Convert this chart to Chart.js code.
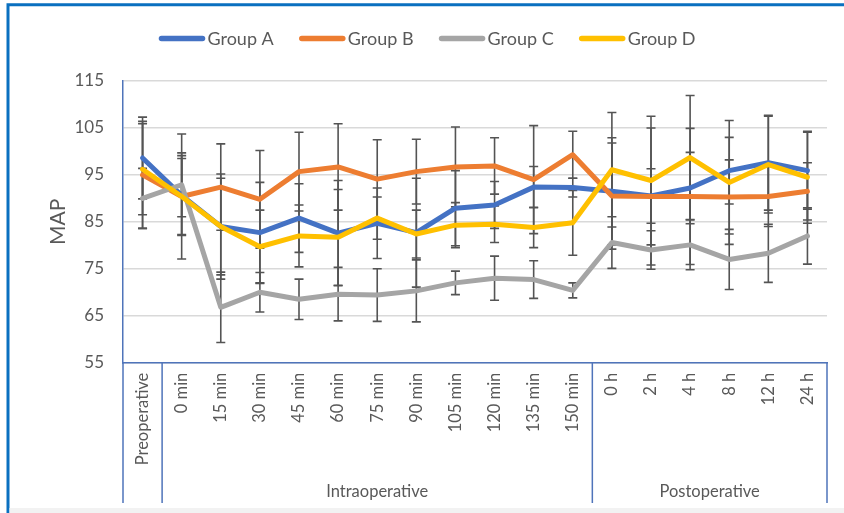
<!DOCTYPE html>
<html>
<head>
<meta charset="utf-8">
<script src="https://cdn.jsdelivr.net/npm/chart.js@4.4.1/dist/chart.umd.min.js"></script>
<style>
  html, body { margin: 0; padding: 0; background: #ffffff; }
  #wrap { width: 844px; height: 513px; position: relative; }
</style>
</head>
<body>
<div id="wrap"><canvas id="c" width="844" height="513"></canvas></div>
<script>
// Time points of the measurement
const categories = ['Preoperative', '0 min', '15 min', '30 min', '45 min', '60 min', '75 min',
  '90 min', '105 min', '120 min', '135 min', '150 min', '0 h', '2 h', '4 h', '8 h', '12 h', '24 h'];

// Phase grouping shown under the time labels (first / last category index)
const phaseNames = ['Intraoperative', 'Postoperative'];
const phaseStart = [1, 12];
const phaseEnd = [11, 17];

const seriesNames = ['Group A', 'Group B', 'Group C', 'Group D'];

// Mean arterial pressure (mean values)
const groupA = [98.6, 90.6, 84.0, 82.7, 85.8, 82.6, 84.7, 82.7, 87.9, 88.6, 92.4, 92.3, 91.5, 90.5, 92.2, 95.9, 97.6, 95.9];
const groupB = [95.0, 90.4, 92.4, 89.8, 95.7, 96.7, 94.1, 95.7, 96.7, 96.9, 94.0, 99.3, 90.5, 90.4, 90.4, 90.3, 90.4, 91.5];
const groupC = [90.0, 92.9, 66.8, 70.0, 68.5, 69.6, 69.4, 70.3, 72.0, 73.0, 72.7, 70.4, 80.6, 79.0, 80.1, 77.0, 78.3, 82.0];
const groupD = [96.2, 90.4, 84.0, 79.7, 82.0, 81.7, 85.8, 82.4, 84.3, 84.5, 83.8, 84.8, 96.1, 93.8, 98.7, 93.4, 97.2, 94.5];

// Standard deviations (error bars)
const sdA = [8.7, 8.5, 11.2, 10.7, 7.3, 11.2, 7.5, 11.6, 8.0, 5.0, 4.4, 2.0, 11.4, 5.8, 7.6, 7.1, 10.1, 8.2];
const sdB = [11.4, 13.3, 9.2, 10.4, 8.4, 9.2, 8.4, 6.9, 8.5, 6.0, 11.5, 5.0, 11.3, 14.6, 14.5, 7.9, 6.4, 6.1];
const sdC = [6.4, 6.8, 7.5, 4.2, 4.3, 5.7, 5.6, 6.6, 2.5, 4.7, 4.0, 1.6, 5.5, 4.1, 5.3, 6.4, 6.2, 6.0];
const sdD = [9.7, 8.1, 10.3, 7.8, 6.6, 10.2, 4.5, 5.1, 4.8, 3.9, 4.3, 6.9, 12.2, 13.7, 13.2, 13.2, 10.3, 9.8];

// Y axis range and step
const yMin = 55, yMax = 115, yStep = 10;

const FONT = 'Lato, "Open Sans", sans-serif';
const TEXT = '#595959';
const AXIS = '#4F74BA';
const FRAME = '#0A70C0';
const COLORS = ['#4472C4', '#ED7D31', '#A5A5A5', '#FFC000'];

const means = [groupA, groupB, groupC, groupD];
const sds = [sdA, sdB, sdC, sdD];

// Error bars: vertical whiskers with caps, drawn beneath the lines
const errorBars = {
  id: 'errorBars',
  beforeDatasetsDraw(chart) {
    const { ctx } = chart;
    const y = chart.scales.y;
    ctx.save();
    ctx.strokeStyle = '#545454';
    ctx.lineWidth = 1.6;
    chart.data.datasets.forEach((ds, i) => {
      const meta = chart.getDatasetMeta(i);
      meta.data.forEach((pt, j) => {
        const v = ds.data[j], e = ds.sd[j];
        const top = y.getPixelForValue(v + e);
        const bot = y.getPixelForValue(v - e);
        const x = pt.x;
        ctx.beginPath();
        ctx.moveTo(x, top); ctx.lineTo(x, bot);
        ctx.moveTo(x - 4.5, top); ctx.lineTo(x + 4.5, top);
        ctx.moveTo(x - 4.5, bot); ctx.lineTo(x + 4.5, bot);
        ctx.stroke();
      });
    });
    ctx.restore();
  }
};

// Frame, legend and the phase boxes under the category axis
const decorations = {
  id: 'decorations',
  afterDraw(chart) {
    const { ctx, chartArea } = chart;
    const x = chart.scales.x;
    const boxBottom = 503;
    ctx.save();

    // outer frame (left and top edges)
    ctx.strokeStyle = FRAME;
    ctx.lineWidth = 3;
    ctx.beginPath();
    ctx.moveTo(8, 513); ctx.lineTo(8, 4.7); ctx.lineTo(844, 4.7);
    ctx.stroke();

    // category box lines
    const boundary = (i) => (x.getPixelForValue(i - 1) + x.getPixelForValue(i)) / 2;
    const verticals = [chartArea.left, boundary(phaseStart[0]), boundary(phaseStart[1]), chartArea.right];
    ctx.strokeStyle = AXIS;
    ctx.lineWidth = 1.5;
    ctx.beginPath();
    verticals.forEach(vx => { ctx.moveTo(vx, chartArea.bottom); ctx.lineTo(vx, boxBottom); });
    ctx.stroke();

    // phase names
    ctx.fillStyle = TEXT;
    ctx.font = '16.5px ' + FONT;
    ctx.textAlign = 'center';
    ctx.textBaseline = 'middle';
    phaseNames.forEach((name, k) => {
      const left = boundary(phaseStart[k]);
      const right = phaseEnd[k] === categories.length - 1 ? chartArea.right : boundary(phaseEnd[k] + 1);
      ctx.fillText(name, (left + right) / 2, 492);
    });

    // legend
    ctx.font = '18px ' + FONT;
    ctx.textAlign = 'left';
    const lineLen = 47, gap = 2, itemGap = 25;
    const widths = chart.data.datasets.map(ds => lineLen + gap + ctx.measureText(ds.label).width);
    const total = widths.reduce((a, b) => a + b, 0) + itemGap * (widths.length - 1);
    let lx = 427 - total / 2;
    const ly = 38.5;
    chart.data.datasets.forEach((ds, i) => {
      ctx.strokeStyle = ds.borderColor;
      ctx.lineWidth = 5.5;
      ctx.lineCap = 'round';
      ctx.beginPath();
      ctx.moveTo(lx + 3, ly); ctx.lineTo(lx + lineLen - 3, ly);
      ctx.stroke();
      ctx.fillStyle = TEXT;
      ctx.fillText(ds.label, lx + lineLen + gap, ly + 1);
      lx += widths[i] + itemGap;
    });

    // thin light strip along the bottom edge
    ctx.fillStyle = '#F2F2F2';
    ctx.fillRect(9.5, 508, 835, 5);
    ctx.restore();
  }
};

const datasets = seriesNames.map((name, i) => ({
  label: name,
  data: means[i],
  sd: sds[i],
  borderColor: COLORS[i],
  backgroundColor: COLORS[i],
  borderWidth: 5,
  pointRadius: 0,
  pointHoverRadius: 0,
  tension: 0,
  borderJoinStyle: 'round',
  borderCapStyle: 'round',
  order: seriesNames.length - i
}));

new Chart(document.getElementById('c'), {
  type: 'line',
  data: { labels: categories, datasets },
  plugins: [errorBars, decorations],
  options: {
    responsive: false,
    animation: false,
    devicePixelRatio: 1,
    layout: { padding: { left: 0, right: 17, top: 81, bottom: 0 } },
    plugins: { legend: { display: false }, tooltip: { enabled: false } },
    scales: {
      x: {
        offset: true,
        grid: { display: false, drawTicks: false },
        border: { display: true, color: AXIS, width: 1.5 },
        ticks: {
          color: TEXT, font: { family: FONT, size: 16.5 },
          minRotation: 90, maxRotation: 90, autoSkip: false, padding: 10
        },
        afterFit(s) { s.height = 150.3; }
      },
      y: {
        min: yMin, max: yMax,
        grid: { color: '#D9D9D9', lineWidth: 1.5, drawTicks: false },
        border: { display: true, color: AXIS, width: 1.5 },
        ticks: { stepSize: yStep, color: TEXT, font: { family: FONT, size: 17 }, padding: 19 },
        title: { display: true, text: 'MAP', color: TEXT, font: { family: FONT, size: 21 }, padding: { top: 46, bottom: 0 } },
        afterFit(s) { s.width = 123; }
      }
    }
  }
});
</script>
</body>
</html>
